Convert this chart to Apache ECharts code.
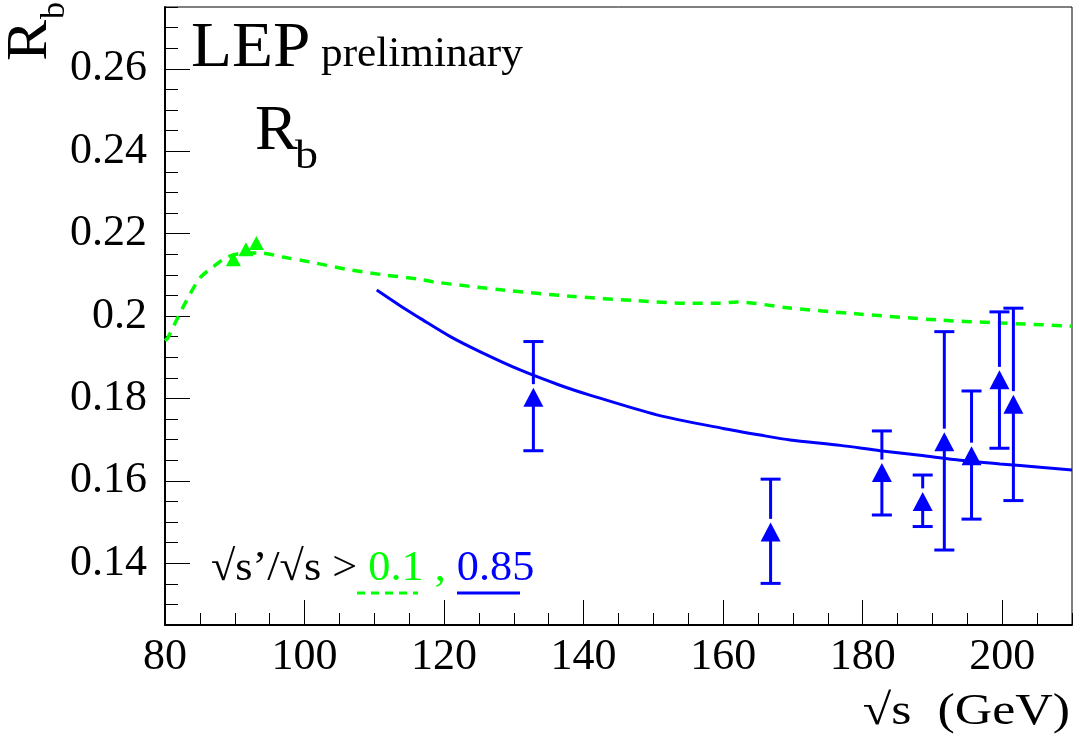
<!DOCTYPE html>
<html>
<head>
<meta charset="utf-8">
<title>Rb vs sqrt(s)</title>
<script src="https://cdn.jsdelivr.net/npm/echarts@6/dist/echarts.min.js"></script>
<style>
  html, body { margin: 0; padding: 0; background: #fff; }
  #main { width: 1078px; height: 740px; }
</style>
</head>
<body>
<div id="main"></div>
<script>
// Z peak points (green) : sqrt(s), Rb, lower / upper error ends
var greenX = [89.8, 91.6, 93.1];
var greenY = [0.2138, 0.2162, 0.2177];
var greenLo = [0.2130, 0.2155, 0.2170];
var greenHi = [0.2162, 0.2169, 0.2184];

// high energy points (blue)
var blueX = [132.8, 166.8, 182.75, 188.6, 191.7, 195.6, 199.6, 201.6];
var blueY = [0.1803, 0.1476, 0.1620, 0.1550, 0.1695, 0.1661, 0.1845, 0.1786];
var blueLo = [0.1673, 0.1351, 0.1517, 0.1489, 0.1432, 0.1507, 0.1679, 0.1552];
var blueHi = [0.1938, 0.1604, 0.1721, 0.1614, 0.1962, 0.1818, 0.2010, 0.2019];

// SM prediction, sqrt(s')/sqrt(s) > 0.1 (dashed green)
var greenCurveX = [80, 80.4, 82.6, 85.0, 86.9, 88.9, 91.5, 93.6, 96.9, 100.8, 106.5, 111.3, 116.6,
    118.4, 128.5, 138.1, 147.7, 154.8, 159.6, 162.0, 169.2, 178.6, 191.1, 199.7, 209.3, 210];
var greenCurveY = [0.1940, 0.1947, 0.2022, 0.2092, 0.2119, 0.2143, 0.2153, 0.2153, 0.2143, 0.2131, 0.2112, 0.2100, 0.2089,
    0.2083, 0.2063, 0.2048, 0.2037, 0.2031, 0.2031, 0.2034, 0.2020, 0.2006, 0.1990, 0.1983, 0.1976, 0.1975];

// SM prediction, sqrt(s')/sqrt(s) > 0.85 (solid blue)
var blueCurveX = [110.35, 113.7, 117.0, 120.9, 125.2, 130.9, 136.6, 140.9, 150.5, 160.0, 165.3, 169.6,
    176.8, 182.5, 188.2, 194.0, 199.7, 205.4, 210];
var blueCurveY = [0.2063, 0.2025, 0.1990, 0.1950, 0.1913, 0.1869, 0.1832, 0.1808, 0.1760, 0.1727, 0.1711, 0.1699,
    0.1686, 0.1673, 0.1662, 0.1650, 0.1641, 0.1633, 0.1626];

var FONT = '"Times New Roman", "Liberation Serif", Times, serif';
var GREEN = '#00ff00';
var BLUE = '#0000ff';

function pairs(xs, ys) {
    return xs.map(function (x, i) { return [x, ys[i]]; });
}

// error bar drawn around the marker, with a gap where the triangle sits
function errorBars(color, capHalf, gapTop, gapBot) {
    return function (params, api) {
        var c = api.coord([api.value(0), api.value(1)]);
        var lo = api.coord([api.value(0), api.value(2)]);
        var hi = api.coord([api.value(0), api.value(3)]);
        var st = { stroke: color, lineWidth: 3 };
        var kids = [];
        if (hi[1] < c[1] - gapTop) {
            kids.push({ type: 'line', shape: { x1: c[0], y1: hi[1], x2: c[0], y2: c[1] - gapTop }, style: st });
            kids.push({ type: 'line', shape: { x1: c[0] - capHalf, y1: hi[1], x2: c[0] + capHalf, y2: hi[1] }, style: st });
        }
        if (lo[1] > c[1] + gapBot) {
            kids.push({ type: 'line', shape: { x1: c[0], y1: c[1] + gapBot, x2: c[0], y2: lo[1] }, style: st });
            kids.push({ type: 'line', shape: { x1: c[0] - capHalf, y1: lo[1], x2: c[0] + capHalf, y2: lo[1] }, style: st });
        }
        return { type: 'group', children: kids };
    };
}

var myChart = echarts.init(document.getElementById('main'));

var option = {
    backgroundColor: '#fff',
    animation: false,
    grid: {
        left: 165, right: 6, top: 7, bottom: 115,
        show: true, borderColor: '#000', borderWidth: 1,
        outerBoundsMode: 'none'
    },
    xAxis: [
        {
            type: 'value', min: 80, max: 210, interval: 20,
            axisLine: { lineStyle: { color: '#000', width: 2 } },
            axisTick: { inside: true, length: 25, lineStyle: { color: '#000', width: 1 } },
            axisLabel: { fontSize: 44, fontFamily: FONT, color: '#000', margin: 10, showMaxLabel: false },
            splitLine: { show: false }
        },
        {
            // minor ticks every 5 GeV
            type: 'value', min: 80, max: 210, interval: 5, position: 'bottom',
            axisLine: { show: false },
            axisTick: { inside: true, length: 12, lineStyle: { color: '#000', width: 1 } },
            axisLabel: { show: false },
            splitLine: { show: false }
        }
    ],
    yAxis: [
        {
            type: 'value', min: 0.125, max: 0.275, splitNumber: 7,
            axisLine: { lineStyle: { color: '#000', width: 2 } },
            axisTick: { inside: true, length: 25, lineStyle: { color: '#000', width: 1 } },
            axisLabel: { fontSize: 44, fontFamily: FONT, color: '#000', margin: 18, showMinLabel: false, showMaxLabel: false },
            splitLine: { show: false }
        },
        {
            // minor ticks every 0.005
            type: 'value', min: 0.125, max: 0.275, splitNumber: 30, position: 'left',
            axisLine: { show: false },
            axisTick: { inside: true, length: 13, lineStyle: { color: '#000', width: 1 } },
            axisLabel: { show: false },
            splitLine: { show: false }
        }
    ],
    series: [
        {
            name: '> 0.1', type: 'line', smooth: 0.3, showSymbol: false,
            data: pairs(greenCurveX, greenCurveY),
            lineStyle: { color: GREEN, width: 3.5, type: [10, 8] },
            z: 2
        },
        {
            name: '> 0.85', type: 'line', smooth: 0.25, showSymbol: false,
            data: pairs(blueCurveX, blueCurveY),
            lineStyle: { color: BLUE, width: 3 },
            z: 2
        },
        {
            type: 'custom',
            data: greenX.map(function (x, i) { return [x, greenY[i], greenLo[i], greenHi[i]]; }),
            renderItem: errorBars(GREEN, 8, 10, 7),
            z: 3
        },
        {
            type: 'custom',
            data: blueX.map(function (x, i) { return [x, blueY[i], blueLo[i], blueHi[i]]; }),
            renderItem: errorBars(BLUE, 10, 13, 9),
            z: 3
        },
        {
            type: 'scatter', symbol: 'triangle', symbolSize: [15, 14],
            data: pairs(greenX, greenY),
            itemStyle: { color: GREEN, opacity: 1 },
            z: 4
        },
        {
            type: 'scatter', symbol: 'triangle', symbolSize: [20, 19],
            data: pairs(blueX, blueY),
            itemStyle: { color: BLUE, opacity: 1 },
            z: 4
        }
    ],
    graphic: [
        // axis titles
        {
            type: 'text', x: 31, y: 61, rotation: Math.PI / 2, scaleX: 1.1,
            style: { text: 'R', font: '56px ' + FONT, fill: '#000', align: 'left', verticalAlign: 'middle' }
        },
        {
            type: 'text', x: 55, y: 19, rotation: Math.PI / 2,
            style: { text: 'b', font: '34px ' + FONT, fill: '#000', align: 'left', verticalAlign: 'middle' }
        },
        {
            type: 'text', x: 1070, y: 712, scaleX: 1.18,
            style: { text: '\u221As  (GeV)', font: '44px ' + FONT, fill: '#000', align: 'right', verticalAlign: 'middle' }
        },
        // title block
        {
            type: 'text', x: 191, y: 49, scaleX: 1.05,
            style: { text: 'LEP', font: '64px ' + FONT, fill: '#000', align: 'left', verticalAlign: 'middle' }
        },
        {
            type: 'text', x: 321, y: 55, scaleX: 1.03,
            style: { text: 'preliminary', font: '42px ' + FONT, fill: '#000', align: 'left', verticalAlign: 'middle' }
        },
        {
            type: 'text', x: 255, y: 132,
            style: { text: 'R', font: '64px ' + FONT, fill: '#000', align: 'left', verticalAlign: 'middle' }
        },
        {
            type: 'text', x: 295, y: 157, scaleX: 1.15,
            style: { text: 'b', font: '40px ' + FONT, fill: '#000', align: 'left', verticalAlign: 'middle' }
        },
        // cut legend
        {
            type: 'text', x: 211, y: 569, scaleX: 1.03,
            style: {
                text: '{k|\u221As\u2019/\u221As > }{g|0.1 , }{b|0.85}',
                font: '43px ' + FONT, align: 'left', verticalAlign: 'middle',
                rich: {
                    k: { fill: '#000', font: '43px ' + FONT },
                    g: { fill: GREEN, font: '43px ' + FONT },
                    b: { fill: BLUE, font: '43px ' + FONT }
                }
            }
        },
        {
            type: 'line', shape: { x1: 357, y1: 593, x2: 418, y2: 593 },
            style: { stroke: GREEN, lineWidth: 3, lineDash: [8, 6] }
        },
        {
            type: 'line', shape: { x1: 457, y1: 593, x2: 520, y2: 593 },
            style: { stroke: BLUE, lineWidth: 3 }
        }
    ]
};

myChart.setOption(option);
</script>
</body>
</html>
